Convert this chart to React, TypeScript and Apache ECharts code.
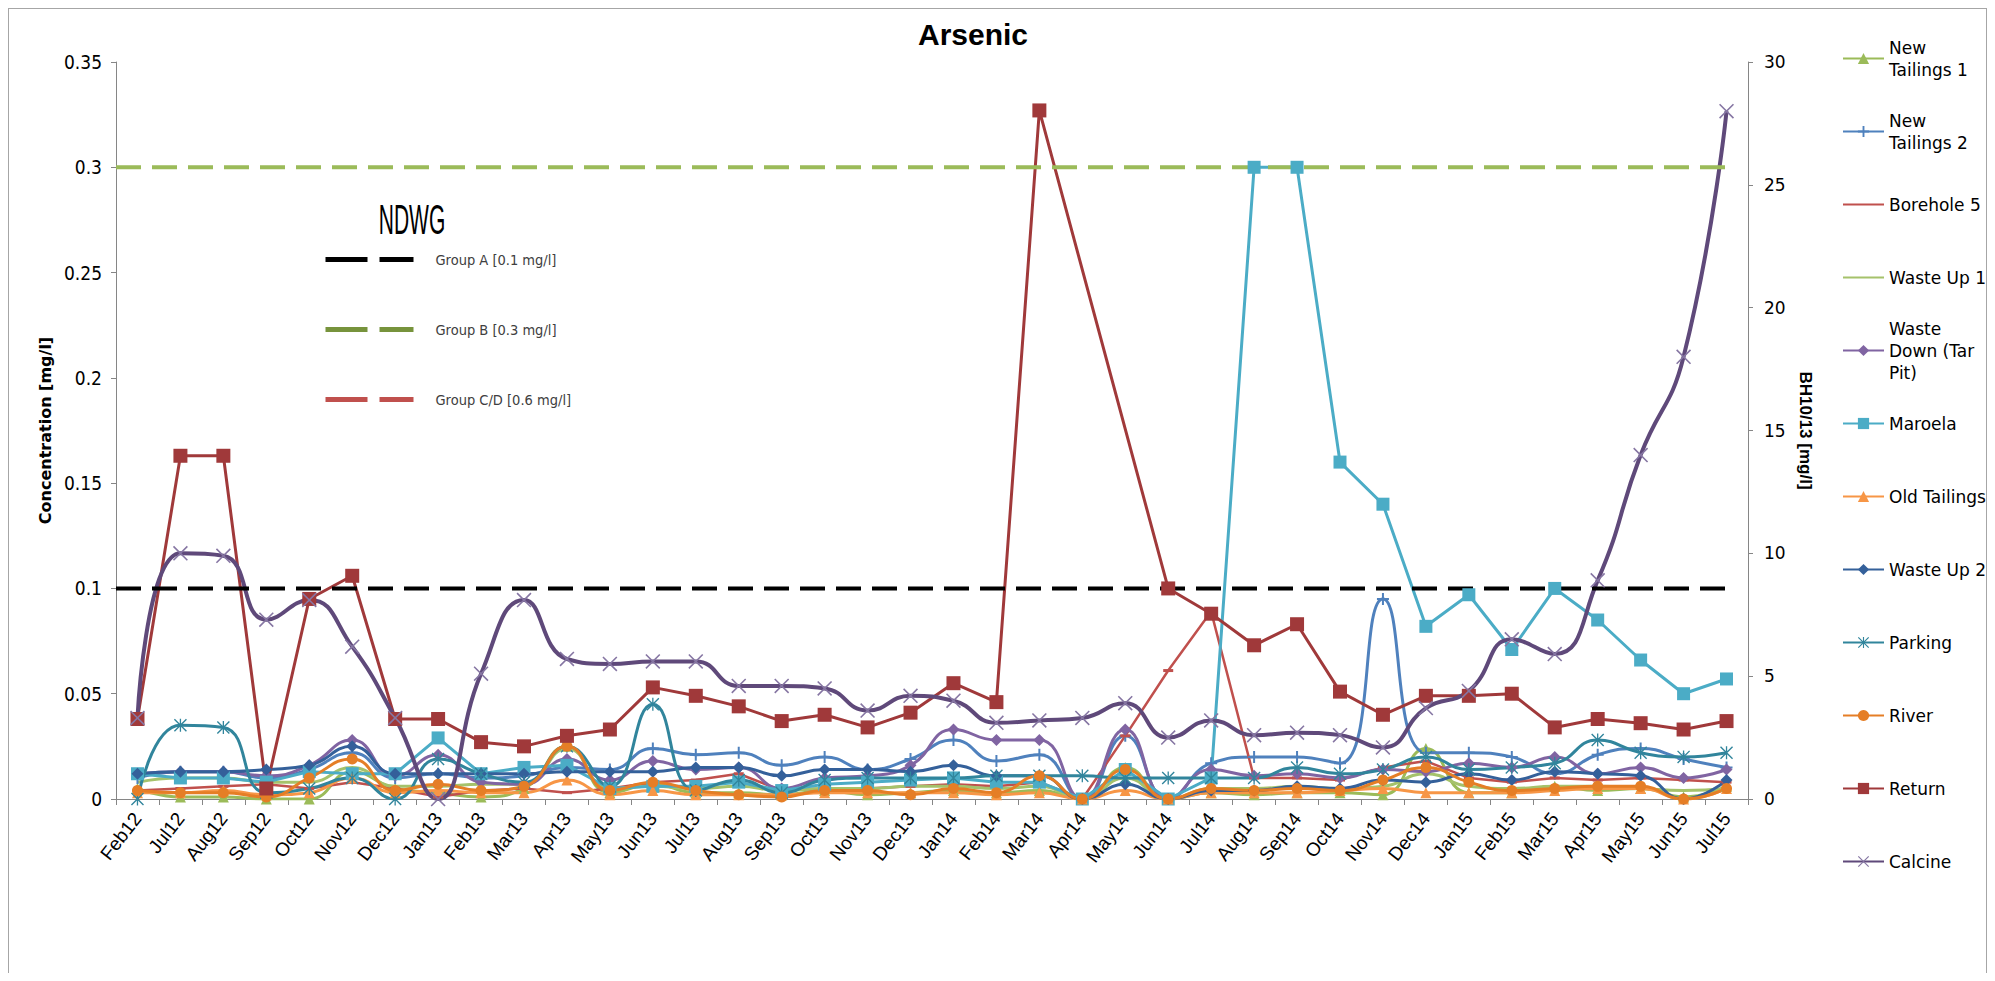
import React, { useEffect, useRef } from "react";
import * as echarts from "echarts";

const categories = ["Feb12","Jul12","Aug12","Sep12","Oct12","Nov12","Dec12","Jan13","Feb13","Mar13","Apr13","May13","Jun13","Jul13","Aug13","Sep13","Oct13","Nov13","Dec13","Jan14","Feb14","Mar14","Apr14","May14","Jun14","Jul14","Aug14","Sep14","Oct14","Nov14","Dec14","Jan15","Feb15","Mar15","Apr15","May15","Jun15","Jul15"];

const newTailings1 = [0.005,0.001,0.001,0.000,0.000,0.013,0.005,0.003,0.001,0.005,0.025,0.003,0.007,0.003,0.003,0.002,0.004,0.002,0.003,0.004,0.003,0.004,0.000,0.015,0.000,0.003,0.002,0.003,0.003,0.002,0.024,0.003,0.003,0.006,0.004,0.005,0.001,0.006];
const newTailings2 = [0.010,0.013,0.013,0.010,0.014,0.022,0.010,0.012,0.010,0.011,0.015,0.014,0.024,0.021,0.022,0.016,0.020,0.014,0.019,0.028,0.018,0.021,0.000,0.030,0.000,0.017,0.020,0.020,0.017,0.095,0.022,0.022,0.020,0.012,0.021,0.024,0.019,0.015];
const borehole5 = [0.004,0.005,0.006,0.007,0.005,0.008,0.005,0.001,0.004,0.005,0.003,0.005,0.008,0.009,0.012,0.004,0.005,0.005,0.006,0.007,0.006,0.008,0.000,0.030,0.061,0.089,0.010,0.010,0.009,0.015,0.018,0.010,0.008,0.010,0.009,0.010,0.009,0.008];
const wasteUp1 = [0.008,0.010,0.010,0.008,0.008,0.015,0.006,0.006,0.007,0.007,0.024,0.005,0.006,0.005,0.006,0.004,0.005,0.005,0.006,0.006,0.005,0.006,0.000,0.010,0.000,0.005,0.005,0.006,0.005,0.006,0.012,0.006,0.005,0.006,0.006,0.005,0.004,0.005];
const wasteDown = [0.012,0.013,0.013,0.011,0.016,0.028,0.011,0.021,0.008,0.007,0.019,0.009,0.018,0.014,0.015,0.005,0.010,0.011,0.016,0.033,0.028,0.028,0.000,0.033,0.000,0.014,0.011,0.012,0.010,0.014,0.013,0.017,0.015,0.020,0.012,0.015,0.010,0.014];
const maroela = [0.012,0.010,0.010,0.008,0.013,0.012,0.012,0.029,0.012,0.015,0.016,0.005,0.006,0.006,0.008,0.004,0.007,0.008,0.009,0.010,0.008,0.008,0.000,0.014,0.000,0.010,0.300,0.300,0.160,0.140,0.082,0.097,0.071,0.100,0.085,0.066,0.050,0.057];
const oldTailings = [0.003,0.003,0.004,0.002,0.003,0.010,0.003,0.004,0.003,0.003,0.009,0.002,0.004,0.002,0.002,0.002,0.003,0.003,0.003,0.003,0.002,0.003,0.000,0.004,0.000,0.003,0.003,0.003,0.004,0.005,0.003,0.003,0.003,0.004,0.005,0.005,0.000,0.005];
const wasteUp2 = [0.012,0.013,0.013,0.014,0.016,0.025,0.012,0.012,0.012,0.012,0.013,0.013,0.013,0.015,0.015,0.011,0.014,0.014,0.013,0.016,0.011,0.011,0.000,0.007,0.000,0.004,0.004,0.006,0.005,0.009,0.008,0.012,0.009,0.013,0.012,0.011,0.000,0.009];
const parking = [0.000,0.035,0.034,0.003,0.005,0.010,0.000,0.019,0.012,0.008,0.025,0.006,0.045,0.004,0.009,0.003,0.009,0.010,0.010,0.010,0.011,0.011,0.011,0.010,0.010,0.010,0.010,0.015,0.012,0.014,0.020,0.014,0.015,0.017,0.028,0.022,0.020,0.022];
const river = [0.004,0.003,0.003,0.001,0.010,0.019,0.004,0.007,0.004,0.006,0.025,0.004,0.008,0.004,0.002,0.001,0.004,0.004,0.002,0.005,0.003,0.011,0.000,0.014,0.000,0.005,0.004,0.005,0.004,0.009,0.015,0.008,0.004,0.005,0.006,0.006,0.000,0.005];
const returnSite = [0.038,0.163,0.163,0.005,0.095,0.106,0.038,0.038,0.027,0.025,0.030,0.033,0.053,0.049,0.044,0.037,0.040,0.034,0.041,0.055,0.046,0.327,null,null,0.100,0.088,0.073,0.083,0.051,0.040,0.049,0.049,0.050,0.034,0.038,0.036,0.033,0.037];
// Calcine is read on the secondary axis (BH10/13 [mg/l])
const calcine = [3.3,10.0,9.9,7.3,8.1,6.2,3.3,0.0,5.1,8.1,5.7,5.5,5.6,5.6,4.6,4.6,4.5,3.6,4.2,4.0,3.1,3.2,3.3,3.9,2.5,3.2,2.6,2.7,2.6,2.1,3.7,4.4,6.5,5.9,8.9,14.0,18.0,28.0];

const leftTicks = { min: 0, max: 0.35, interval: 0.05 };
const rightTicks = { min: 0, max: 30, interval: 5 };

const guideNames = ["Group A [0.1 mg/l]", "Group B [0.3 mg/l]", "Group C/D [0.6 mg/l]"];
const guideValues = [0.1, 0.3, 0.6];
const guideSpan = [0, 37.5];

const PLUS = "path://M5,0H7V5H12V7H7V12H5V7H0V5H5Z";
const XMARK = "path://M0,0.9L0.9,0L12,11.1L11.1,12ZM11.1,0L12,0.9L0.9,12L0,11.1Z";
const STAR = "path://M0,0.9L0.9,0L12,11.1L11.1,12ZM11.1,0L12,0.9L0.9,12L0,11.1ZM5.4,0H6.6V12H5.4Z";

type SDef = { name: string; label: string; data: (number | null)[]; color: string; symbol: string; size: any; smooth: boolean; width: number; axis: number; symColor?: string; hideLegendSymbol?: boolean };

const seriesDefs: SDef[] = [
  { name: "New Tailings 1", label: "New\nTailings 1", data: newTailings1, color: "#9BBB59", symbol: "triangle", size: 11, smooth: true, width: 3, axis: 0 },
  { name: "New Tailings 2", label: "New\nTailings 2", data: newTailings2, color: "#4F81BD", symbol: PLUS, size: 12, smooth: true, width: 3, axis: 0 },
  { name: "Borehole 5", label: "Borehole 5", data: borehole5, color: "#C0504D", symbol: "rect", size: [10, 3], smooth: false, width: 2.5, axis: 0, hideLegendSymbol: true },
  { name: "Waste Up 1", label: "Waste Up 1", data: wasteUp1, color: "#A5C26B", symbol: "none", size: 0, smooth: true, width: 3, axis: 0, hideLegendSymbol: true },
  { name: "Waste Down (Tar Pit)", label: "Waste\nDown (Tar\nPit)", data: wasteDown, color: "#8064A2", symbol: "diamond", size: 12, smooth: true, width: 3, axis: 0 },
  { name: "Maroela", label: "Maroela", data: maroela, color: "#4BACC6", symbol: "rect", size: 13, smooth: false, width: 3, axis: 0 },
  { name: "Old Tailings", label: "Old Tailings", data: oldTailings, color: "#F79646", symbol: "triangle", size: 11, smooth: true, width: 3, axis: 0 },
  { name: "Waste Up 2", label: "Waste Up 2", data: wasteUp2, color: "#34609A", symbol: "diamond", size: 12, smooth: true, width: 3, axis: 0 },
  { name: "Parking", label: "Parking", data: parking, color: "#31859C", symbol: STAR, size: 13, smooth: true, width: 3, axis: 0 },
  { name: "River", label: "River", data: river, color: "#E57E26", symbol: "circle", size: 11, smooth: true, width: 3, axis: 0 },
  { name: "Return", label: "Return", data: returnSite, color: "#A0393A", symbol: "rect", size: 14, smooth: false, width: 3, axis: 0 },
  { name: "Calcine", label: "Calcine", data: calcine, color: "#5F497A", symbol: XMARK, size: 15, smooth: true, width: 4, axis: 1, symColor: "#8676A3" },
];

const guideColors = ["#000000", "#9BBB59", "#C0504D"];
const guideLegendColors = ["#000000", "#77933C", "#C0504D"];

export default function App() {
  const ref = useRef<HTMLDivElement>(null);
  useEffect(() => {
    if (!ref.current) return;
    const chart = echarts.init(ref.current, null, { renderer: "svg" });

    const axisColor = "#868686";
    const lh = 22;
    const legendTop0 = 49.5;
    const legendStep = 73;

    const mainLegends = seriesDefs.map((s, i) => {
      const n = s.label.split("\n").length;
      const y = legendTop0 + legendStep * i;
      const item: any = { name: s.name };
      if (s.hideLegendSymbol) item.itemStyle = { opacity: 0 };
      return {
        data: [item],
        orient: "vertical",
        left: 1833,
        top: y - ((2 * n - 1) * lh) / 2,
        padding: 0,
        itemWidth: 41,
        itemHeight: 14,
        selectedMode: false,
        formatter: () => s.label,
        textStyle: { fontFamily: "DejaVu Sans", fontSize: 17, lineHeight: lh, color: "#000", padding: [(n - 1) * lh, 0, 0, 0] },
      };
    });

    const insetLegend = {
      data: guideNames.map((g, i) => ({
        name: g,
        itemStyle: { opacity: 0 },
        lineStyle: { color: guideLegendColors[i], width: 5, type: [42, 12] },
      })),
      orient: "vertical",
      left: 314,
      top: 243,
      padding: 0,
      itemWidth: 88,
      itemHeight: 14,
      itemGap: 55,
      selectedMode: false,
      textStyle: { fontFamily: "DejaVu Sans Condensed, Liberation Sans Narrow, Liberation Sans, sans-serif", fontSize: 14.5, lineHeight: 14, color: "#404040", padding: [0, 0, 0, 17] },
    };

    const dataSeries = seriesDefs.map((s) => ({
      name: s.name,
      type: "line",
      xAxisIndex: 0,
      yAxisIndex: s.axis,
      data: s.data,
      smooth: s.smooth ? 0.5 : false,
      connectNulls: true,
      showAllSymbol: true,
      symbol: s.symbol,
      symbolSize: s.size,
      lineStyle: { color: s.color, width: s.width },
      itemStyle: { color: s.symColor || s.color },
      emphasis: { disabled: true },
    }));

    const guideSeries = guideNames.map((g, i) => ({
      name: g,
      type: "line",
      xAxisIndex: 1,
      yAxisIndex: 0,
      data: guideSpan.map((x) => [x, guideValues[i]]),
      symbol: "none",
      lineStyle: { color: guideColors[i], width: 4, type: [25, 11] },
      itemStyle: { color: guideColors[i] },
      emphasis: { disabled: true },
      silent: true,
    }));

    chart.setOption({
      animation: false,
      backgroundColor: "#ffffff",
      title: [
        {
          text: "Arsenic",
          left: 964,
          top: 10,
          textAlign: "center",
          padding: 0,
          textStyle: { fontFamily: "Liberation Sans", fontWeight: "bold", fontSize: 30, color: "#000" },
        },
      ],
      graphic: [
        {
          type: "text",
          x: 403,
          y: 210,
          scaleX: 0.5,
          style: { text: "NDWG", fontFamily: "Liberation Sans", fontSize: 42, fill: "#000", align: "center", verticalAlign: "middle" },
        },
      ],
      legend: [...mainLegends, insetLegend],
      grid: { left: 107, right: 238, top: 53, bottom: 174, containLabel: false },
      xAxis: [
        {
          type: "category",
          data: categories,
          boundaryGap: true,
          axisLine: { show: true, lineStyle: { color: axisColor, width: 1 } },
          axisTick: { show: true, length: 6, lineStyle: { color: axisColor } },
          axisLabel: { rotate: 52, interval: 0, margin: 16, fontFamily: "Liberation Sans", fontSize: 19, color: "#000" },
          splitLine: { show: false },
        },
        { type: "value", min: 0, max: 38, show: false },
      ],
      yAxis: [
        {
          type: "value",
          min: leftTicks.min,
          max: leftTicks.max,
          interval: leftTicks.interval,
          name: "Concentration [mg/l]",
          nameLocation: "middle",
          nameGap: 59,
          nameTextStyle: { fontFamily: "DejaVu Sans", fontWeight: "bold", fontSize: 16, color: "#000" },
          axisLine: { show: true, lineStyle: { color: axisColor } },
          axisTick: { show: true, length: 5, lineStyle: { color: axisColor } },
          axisLabel: { margin: 14, fontFamily: "DejaVu Sans Condensed, Liberation Sans Narrow, Liberation Sans, sans-serif", fontSize: 19, color: "#000" },
          splitLine: { show: false },
        },
        {
          type: "value",
          position: "right",
          min: rightTicks.min,
          max: rightTicks.max,
          interval: rightTicks.interval,
          name: "BH10/13 [mg/l]",
          nameLocation: "middle",
          nameRotate: -90,
          nameGap: 47,
          nameTextStyle: { fontFamily: "Liberation Sans", fontWeight: "bold", fontSize: 17, color: "#000" },
          axisLine: { show: true, lineStyle: { color: axisColor } },
          axisTick: { show: true, length: 5, lineStyle: { color: axisColor } },
          axisLabel: { margin: 16, fontFamily: "DejaVu Sans", fontSize: 17, color: "#000" },
          splitLine: { show: false },
        },
      ],
      series: [...dataSeries, ...guideSeries],
    });
    return () => chart.dispose();
  }, []);
  return (
    <div
      ref={ref}
      style={{ width: 1979, height: 965, borderTop: "1px solid #a6a6a6", borderLeft: "1px solid #a6a6a6", borderRight: "1px solid #a6a6a6", boxSizing: "border-box" }}
    />
  );
}
